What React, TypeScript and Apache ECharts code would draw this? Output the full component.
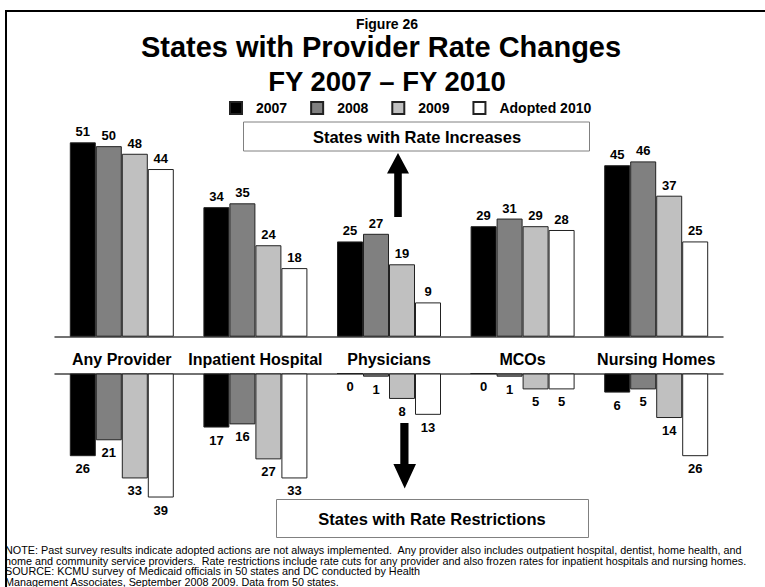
import React, { useEffect, useRef } from "react";
import * as echarts from "echarts";

const categories = ["Any Provider", "Inpatient Hospital", "Physicians", "MCOs", "Nursing Homes"];
const seriesNames = ["2007", "2008", "2009", "Adopted 2010"];
const increases2007 = [51, 34, 25, 29, 45];
const increases2008 = [50, 35, 27, 31, 46];
const increases2009 = [48, 24, 19, 29, 37];
const increases2010 = [44, 18, 9, 28, 25];
const restrictions2007 = [26, 17, 0, 0, 6];
const restrictions2008 = [21, 16, 1, 1, 5];
const restrictions2009 = [33, 27, 8, 5, 14];
const restrictions2010 = [39, 33, 13, 5, 26];
const barColors = ["#000000", "#808080", "#c0c0c0", "#ffffff"];

const noteLines = [
  "NOTE: Past survey results indicate adopted actions are not always implemented.  Any provider also includes outpatient hospital, dentist, home health, and",
  "home and community service providers.  Rate restrictions include rate cuts for any provider and also frozen rates for inpatient hospitals and nursing homes.",
  "SOURCE: KCMU survey of Medicaid officials in 50 states and DC conducted by Health",
  "Management Associates, September 2008 2009. Data from 50 states.",
];

const FONT = "'Liberation Sans', Arial, sans-serif";

export default function App() {
  const ref = useRef<HTMLDivElement>(null);
  useEffect(() => {
    if (!ref.current) return;
    const chart = echarts.init(ref.current, null, { renderer: "svg" });
    const inc = [increases2007, increases2008, increases2009, increases2010];
    const res = [restrictions2007, restrictions2008, restrictions2009, restrictions2010];
    const series: any[] = [];
    inc.forEach((d, i) => {
      series.push({
        name: seriesNames[i],
        type: "bar",
        xAxisIndex: 0,
        yAxisIndex: 0,
        data: d,
        barWidth: 26,
        barGap: "0%",
        itemStyle: { color: barColors[i], borderColor: "#222", borderWidth: 1 },
        label: {
          show: true,
          position: "top",
          distance: 4,
          fontFamily: FONT,
          fontSize: 13,
          fontWeight: "bold",
          color: "#000",
        },
      });
    });
    res.forEach((d, i) => {
      series.push({
        name: seriesNames[i],
        type: "bar",
        xAxisIndex: 1,
        yAxisIndex: 1,
        data: d,
        barWidth: 26,
        barGap: "0%",
        itemStyle: { color: barColors[i], borderColor: "#222", borderWidth: 1 },
        label: {
          show: true,
          position: "bottom",
          distance: 6,
          fontFamily: FONT,
          fontSize: 13,
          fontWeight: "bold",
          color: "#000",
        },
      });
    });

    const graphics: any[] = [
      {
        type: "rect",
        shape: { x: 6, y: 11, width: 800, height: 700 },
        style: { fill: "none", stroke: "#000", lineWidth: 2 },
        silent: true,
      },
      {
        type: "text",
        style: { text: "Figure 26", x: 387, y: 24, align: "center", verticalAlign: "middle", font: `bold 14px ${FONT}`, fill: "#000" },
      },
      {
        type: "text",
        style: { text: "States with Provider Rate Changes", x: 381, y: 47, align: "center", verticalAlign: "middle", font: `bold 29px ${FONT}`, fill: "#000" },
      },
      {
        type: "text",
        style: { text: "FY 2007 \u2013 FY 2010", x: 387, y: 81, align: "center", verticalAlign: "middle", font: `bold 27.5px ${FONT}`, fill: "#000" },
      },
      {
        type: "rect",
        shape: { x: 243.5, y: 122, width: 346, height: 29 },
        style: { fill: "#fff", stroke: "#808080", lineWidth: 1 },
      },
      {
        type: "text",
        style: { text: "States with Rate Increases", x: 417, y: 137, align: "center", verticalAlign: "middle", font: `bold 16.5px ${FONT}`, fill: "#000" },
      },
      {
        type: "polygon",
        shape: {
          points: [
            [398, 153], [409, 173.5], [401.8, 173.5], [401.8, 217], [394.2, 217], [394.2, 173.5], [387, 173.5],
          ],
        },
        style: { fill: "#000" },
      },
      {
        type: "polygon",
        shape: {
          points: [
            [400.3, 423], [408.5, 423], [408.5, 464], [416, 464], [404.7, 488.5], [393.4, 464], [400.3, 464],
          ],
        },
        style: { fill: "#000" },
      },
      {
        type: "rect",
        shape: { x: 276.5, y: 499.5, width: 312, height: 38 },
        style: { fill: "#fff", stroke: "#808080", lineWidth: 1 },
      },
      {
        type: "text",
        style: { text: "States with Rate Restrictions", x: 432, y: 519, align: "center", verticalAlign: "middle", font: `bold 16.5px ${FONT}`, fill: "#000" },
      },
    ];
    const noteY = [550, 560.5, 571, 581.5];
    noteLines.forEach((t, i) => {
      graphics.push({
        type: "text",
        style: { text: t, x: 5, y: noteY[i], align: "left", verticalAlign: "middle", font: `10.8px ${FONT}`, lineHeight: 10.5, fill: "#000" },
      });
    });

    chart.setOption({
      animation: false,
      backgroundColor: "#fff",
      legend: {
        data: seriesNames,
        left: 229,
        top: 101,
        padding: 0,
        icon: "rect",
        itemWidth: 12,
        itemHeight: 12,
        itemGap: 23,
        textStyle: { fontFamily: FONT, fontSize: 14, fontWeight: "bold", color: "#000", padding: [0, 0, 0, 9] },
      },
      grid: [
        { left: 55, width: 668, top: 127.1, height: 209.6 },
        { left: 55, width: 668, top: 373.5, height: 127.2 },
      ],
      xAxis: [
        {
          type: "category",
          gridIndex: 0,
          data: categories,
          axisLine: { show: true, lineStyle: { color: "#444", width: 1.5 } },
          axisTick: { show: false },
          axisLabel: { interval: 0, margin: 15, fontFamily: FONT, fontSize: 16, fontWeight: "bold", color: "#000" },
        },
        {
          type: "category",
          gridIndex: 1,
          data: categories,
          position: "top",
          axisLine: { show: true, onZero: false, lineStyle: { color: "#444", width: 1.5 } },
          axisTick: { show: false },
          axisLabel: { show: false },
        },
      ],
      yAxis: [
        { type: "value", gridIndex: 0, min: 0, max: 55, show: false },
        { type: "value", gridIndex: 1, min: 0, max: 40, inverse: true, show: false },
      ],
      series,
      graphic: graphics,
    });
    return () => chart.dispose();
  }, []);
  return <div ref={ref} style={{ position: "absolute", left: 0, top: 0, width: 765, height: 587 }} />;
}
